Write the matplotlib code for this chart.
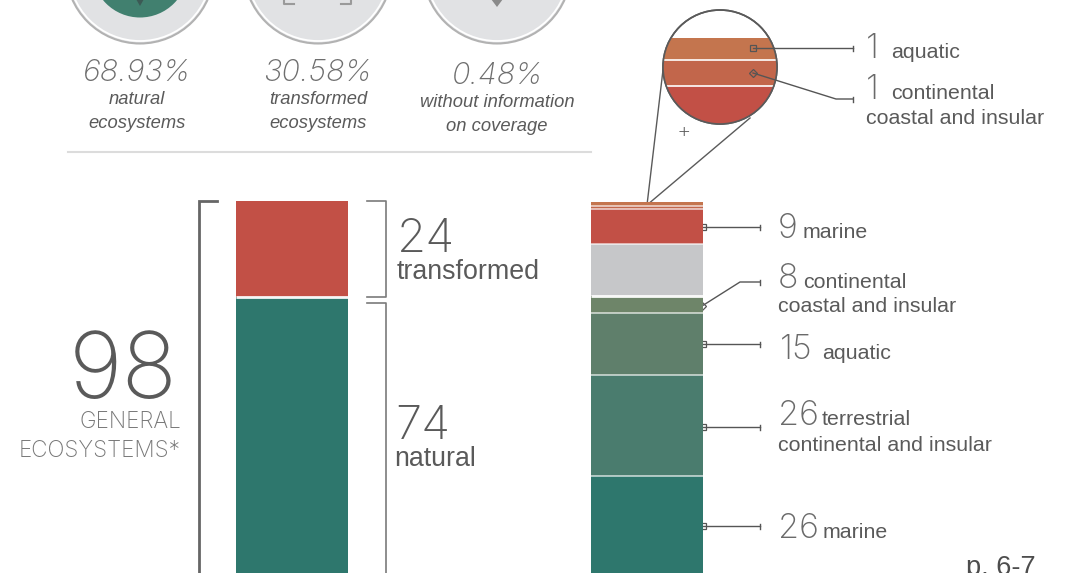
import matplotlib
matplotlib.use('Agg')
import matplotlib.pyplot as plt
from matplotlib.patches import Circle

# stacked bars, in units of the picture (top segment first)
left_sizes = [24, 74]
left_colors = ['#c25046', '#2e776d']
right_sizes = [0.9, 0.9, 8.75, 13.05, 4.2, 15.5, 25.1, 26]
right_colors = ['#c4754e', '#c2664b', '#c25046', '#c6c7c9',
                '#6e8569', '#5f7f6b', '#4a7c6e', '#2e776d']

percents = ['68.93%', '30.58%', '0.48%']
percent_labels = ['natural\necosystems', 'transformed\necosystems', 'without information\non coverage']

LIGHT = 'Inter'
PLAIN = 'Liberation Sans'
TXT = '#5a5a5a'

fig = plt.figure(figsize=(10.71, 5.73), dpi=100)

# overlay in pixel coordinates for the callouts and text
ax = fig.add_axes([0, 0, 1, 1])
ax.set_xlim(0, 1071)
ax.set_ylim(573, 0)
ax.axis('off')

# bars
bar_ax = fig.add_axes([200 / 1071, 0, 540 / 1071, 372 / 573])
bar_ax.set_xlim((200 - 292) / 355, (740 - 292) / 355)
bar_ax.set_ylim(93, 0)
bar_ax.axis('off')
w = 112 / 355


def stack(x, sizes, colors, start=0.0):
    pos = start
    for s, c in zip(sizes, colors):
        bar_ax.bar(x, s, w, bottom=pos, color=c, linewidth=0)
        pos += s
        if c != colors[-1]:
            strong = c == '#c6c7c9' or x == 0
            bar_ax.hlines(pos, x - w / 2, x + w / 2, color='white',
                          lw=2.0 if strong else 1.2, alpha=0.95 if strong else 0.7)


stack(0, left_sizes, left_colors)
stack(1, right_sizes, right_colors, start=0.25)

# circles cut by the top edge
for cx, mark in zip([140, 318, 497], ['leaf', 'bracket', 'pin']):
    ax.add_patch(Circle((cx, -30.5), 74, fc='#e1e2e4', ec='#b2b2b2', lw=1.5))
    ax.add_patch(Circle((cx, -30.5), 71.5, fc='#e1e2e4', ec='white', lw=1.3))
    if mark == 'leaf':
        ax.add_patch(Circle((cx, -30.5), 48, fc='#41806f', ec='none'))
        ax.fill([cx - 4, cx + 4, cx], [-1, -1, 6], color='#3c5a55', lw=0)
    if mark == 'bracket':
        ax.plot([284, 284, 294], [-1, 4, 4], color='#9a9a9a', lw=1.5)
        ax.plot([341, 351, 351], [4, 4, -1], color='#9a9a9a', lw=1.5)
    if mark == 'pin':
        ax.fill([cx - 6, cx + 6, cx], [-1, -1, 7], color='#8a8a8a', lw=0)

# percentages
for cx, by, p, lab in zip([137, 318, 497], [81, 81, 84], percents, percent_labels):
    ax.text(cx, by, p, family=LIGHT, weight='light', style='italic', size=22, color='#6e6e6e',
            ha='center', va='baseline')
    ax.text(cx, by + 23, lab.split('\n')[0], family=PLAIN, style='italic', size=13.2, color=TXT,
            ha='center', va='baseline')
    ax.text(cx, by + 47, lab.split('\n')[1], family=PLAIN, style='italic', size=13.2, color=TXT,
            ha='center', va='baseline')

ax.plot([68, 591], [152, 152], color='#dcdcdc', lw=1.5)

# brackets
ax.plot([217, 199, 199], [201, 201, 575], color='#666666', lw=2, solid_joinstyle='miter')
ax.plot([367, 386, 386, 367], [201, 201, 297, 297], color='#7a7a7a', lw=1.2)
ax.plot([367, 386, 386], [303, 303, 575], color='#7a7a7a', lw=1.2)

ax.text(178, 398, '98', family=LIGHT, weight='light', size=66, color=TXT, ha='right', va='baseline')
ax.text(181, 428, 'GENERAL', family=LIGHT, weight='light', size=16.2, color='#777777', ha='right', va='baseline')
ax.text(181, 457, 'ECOSYSTEMS*', family=LIGHT, weight='light', size=16.2, color='#777777', ha='right', va='baseline')

ax.text(397, 252, '24', family=LIGHT, weight='light', size=34, color=TXT, va='baseline')
ax.text(397, 279, 'transformed', family=PLAIN, size=19.3, color=TXT, va='baseline')
ax.text(395, 439, '74', family=LIGHT, weight='light', size=34, color=TXT, va='baseline')
ax.text(394, 466, 'natural', family=PLAIN, size=19.3, color=TXT, va='baseline')

# lens
lens = Circle((720, 67), 57, fc='white', ec='#5a5a5a', lw=1.2, zorder=3)
ax.add_patch(lens)
top = 38
for s, c in zip([0.85, 1.0, 2.0], right_colors[:3]):
    b = ax.bar(720, s * 26, 130, bottom=top, color=c, linewidth=0, zorder=3.1)
    b[0].set_clip_path(Circle((720, 67), 57, transform=ax.transData))
    top += s * 26
for y in [60, 86]:
    ln, = ax.plot([660, 780], [y, y], color='white', lw=1.2, zorder=3.2)
    ln.set_clip_path(Circle((720, 67), 57, transform=ax.transData))
ax.add_patch(Circle((720, 67), 57, fc='none', ec='#5a5a5a', lw=1.2, zorder=3.3))
ax.plot([663, 647, 750], [70, 205, 118], color='#5a5a5a', lw=1, zorder=2.5)
ax.text(684, 137, '+', family=LIGHT, weight='light', size=16, color=TXT, ha='center', va='baseline')


def callout(xs, ys, marker='s'):
    ax.plot(xs, ys, color='#555555', lw=1, zorder=4)
    ax.plot(xs[0], ys[0], marker=marker, ms=4.5, mfc='none', mec='#555555', mew=0.9, zorder=4)
    ax.plot([xs[-1], xs[-1]], [ys[-1] - 2.5, ys[-1] + 2.5], color='#555555', lw=1, zorder=4)


callout([753, 853], [48, 48])
callout([753, 836, 853], [73, 99, 99], marker='D')
callout([703, 760], [227, 227])
callout([702, 740, 760], [306, 282, 282], marker='D')
callout([703, 760], [344, 344])
callout([703, 760], [427, 427])
callout([703, 760], [526, 526])


def label(x, y, num, word, wx, second=None, second_y=None):
    ax.text(x, y, num, family=LIGHT, weight='light', size=24.5, color='#6a6a6a', va='baseline')
    ax.text(wx, y, word, family=PLAIN, size=15.4, color=TXT, va='baseline')
    if second:
        ax.text(x, second_y, second, family=PLAIN, size=15.4, color=TXT, va='baseline')


label(866, 58, '1', 'aquatic', 891)
label(866, 99, '1', 'continental', 891, 'coastal and insular', 124)
label(778, 238, '9', 'marine', 803)
label(778, 288, '8', 'continental', 803, 'coastal and insular', 312)
label(780, 359, '15', 'aquatic', 822)
label(778, 425, '26', 'terrestrial', 822, 'continental and insular', 451)
label(778, 538, '26', 'marine', 823)

ax.text(966, 575, 'p. 6-7', family=PLAIN, size=19.5, color='#4d4d4d', va='baseline')

fig.savefig('out.png', dpi=100)
